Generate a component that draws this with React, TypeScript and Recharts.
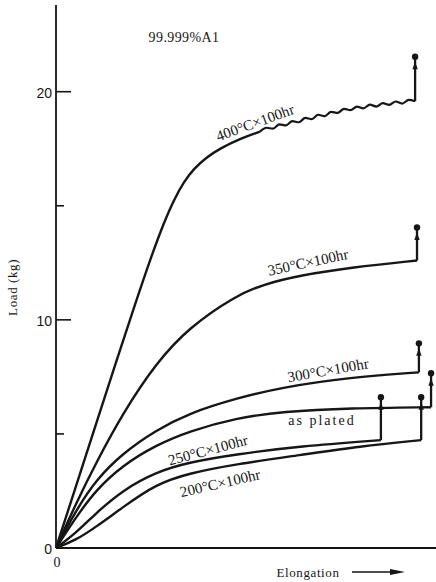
import React from 'react';
import { LineChart, Line, XAxis, YAxis, ReferenceDot } from 'recharts';

// elongation in arbitrary units (0-100 across the axis), load in kg
const curve400 = [
  [0, 0], [5.26, 2.71], [10.53, 5.43], [15.79, 8.14], [21.05, 10.81], [25.26, 12.87],
  [28.42, 14.27], [31.05, 15.27], [33.68, 16.06], [36.32, 16.63], [39.47, 17.11],
  [43.16, 17.51], [48.42, 17.94], [53.68, 18.25],
];
// serrated flow part of the 400°C curve
const serr400 = [
  [53.68, 18.25], [55.4, 18.42], [57.1, 18.38], [58.8, 18.57], [60.5, 18.52], [62.2, 18.71],
  [63.9, 18.66], [65.6, 18.85], [67.3, 18.8], [69.0, 18.99], [70.7, 18.93], [72.4, 19.12],
  [74.1, 19.07], [75.8, 19.25], [77.5, 19.19], [79.2, 19.35], [80.9, 19.27], [82.6, 19.43],
  [84.3, 19.35], [86.0, 19.5], [87.7, 19.42], [89.4, 19.57], [91.1, 19.48], [92.8, 19.64],
  [94.5, 19.58],
];
const curve350 = [
  [0, 0], [5.3, 1.97], [10.5, 3.72], [17.6, 5.91], [26.3, 8.1], [35.0, 9.67],
  [47.4, 11.07], [54.5, 11.55], [64.2, 11.95], [77.9, 12.3], [95.0, 12.6],
];
const curve300 = [
  [0, 0], [5.3, 1.66], [10.5, 2.98], [17.6, 4.16], [26.3, 5.16], [35.0, 5.91],
  [47.4, 6.56], [59.7, 7.05], [77.4, 7.48], [95.5, 7.7],
];
const curvePlated = [
  [0, 0], [5.3, 1.36], [10.5, 2.54], [17.6, 3.63], [26.3, 4.51], [35.0, 5.12],
  [47.4, 5.7], [59.7, 5.98], [77.4, 6.13], [98.7, 6.17],
];
const curve250 = [
  [0, 0], [5.3, 0.66], [10.5, 1.53], [17.6, 2.54], [26.3, 3.33], [35.0, 3.76],
  [47.4, 4.11], [64.2, 4.46], [85.5, 4.73],
];
const curve200 = [
  [0, 0], [5.3, 0.35], [10.5, 0.92], [17.6, 1.79], [26.3, 2.8], [35.0, 3.28],
  [47.4, 3.68], [64.2, 4.07], [80.0, 4.46], [96.1, 4.73],
];

// fracture: [elongation, load before jump, load at break mark]
const breaks = [
  [94.5, 19.58, 21.53],
  [95.0, 12.6, 14.05],
  [95.5, 7.7, 8.97],
  [98.7, 6.17, 7.66],
  [85.5, 4.73, 6.61],
  [96.1, 4.73, 6.61],
];

// curve labels: [text, elongation, load, angle]
const labels: [string, number, number, number][] = [
  ['400°C×100hr', 52.4, 18.64, 20],
  ['350°C×100hr', 66.3, 12.52, 12],
  ['300°C×100hr', 71.6, 7.79, 10],
  ['250°C×100hr', 40.0, 4.29, 15],
  ['200°C×100hr', 43.2, 2.84, 13],
];

const yTicks = [0, 5, 10, 15, 20];
const yLabelled = [0, 10, 20];

const INK = '#161616';
const SERIF = '"Liberation Serif", "DejaVu Serif", serif';
const SANS = '"Liberation Sans", Arial, sans-serif';

const pts = (arr: number[][]) => arr.map(([x, y]) => ({ x, y }));

const endDot = (props: any) => {
  const { cx, cy, index } = props;
  if (index !== 1) return <g key={`e${index}`} />;
  return (
    <g key={`e${index}`}>
      <circle cx={cx} cy={cy} r={3.2} fill={INK} />
      <path d={`M${cx},${cy + 5} L${cx - 2.7},${cy + 12.5} L${cx + 2.7},${cy + 12.5} Z`} fill={INK} />
    </g>
  );
};

const textShape = (txt: string, angle: number, extra: any = {}) => (p: any) => (
  <text
    x={p.cx}
    y={p.cy}
    textAnchor="middle"
    dominantBaseline="central"
    transform={`rotate(${-angle}, ${p.cx}, ${p.cy})`}
    fontFamily={SERIF}
    fontSize={15}
    fill={INK}
    {...extra}
  >
    {txt}
  </text>
);

const YTick = (props: any) => {
  const { x, y, payload } = props;
  const v = payload.value;
  const major = yLabelled.includes(v);
  return (
    <g>
      {v !== 0 && <line x1={x} x2={x + (major ? 15 : 8)} y1={y} y2={y} stroke={INK} strokeWidth={1.6} />}
      {major && (
        <text x={x - 4} y={y + 1} textAnchor="end" dominantBaseline="central" fontFamily={SANS} fontSize={14} fill={INK}>
          {v}
        </text>
      )}
    </g>
  );
};

const XTick = (props: any) => (
  <text x={props.x + 1} y={props.y + 14} textAnchor="middle" dominantBaseline="central" fontFamily={SERIF} fontSize={14} fill={INK}>
    {props.payload.value}
  </text>
);

export default function App() {
  const smooth = [curve400, curve350, curve300, curvePlated, curve250, curve200];
  return (
    <div style={{ width: 436, height: 582, background: '#fff' }}>
      <style>{'body{margin:0}'}</style>
      <LineChart width={436} height={582} margin={{ top: 5, right: 0, bottom: 0, left: 0 }}>
        <XAxis
          type="number"
          dataKey="x"
          domain={[0, 100]}
          ticks={[0]}
          tick={<XTick />}
          tickLine={false}
          tickSize={0}
          tickMargin={0}
          height={34}
          axisLine={{ stroke: INK, strokeWidth: 1.8 }}
          label={{
            content: ({ viewBox }: any) => {
              const y = viewBox.y + 24;
              const x = viewBox.x;
              return (
                <g>
                  <text x={x + 252} y={y} textAnchor="middle" dominantBaseline="central" fontFamily={SERIF} fontSize={13} letterSpacing={0.6} fill={INK}>
                    Elongation
                  </text>
                  <line x1={x + 296} x2={x + 338} y1={y} y2={y} stroke={INK} strokeWidth={1.5} />
                  <path d={`M${x + 349},${y} L${x + 334},${y - 3} L${x + 334},${y + 3} Z`} fill={INK} />
                </g>
              );
            },
          }}
        />
        <YAxis
          type="number"
          dataKey="y"
          domain={[0, 23.8]}
          ticks={yTicks}
          tick={<YTick />}
          tickLine={false}
          tickSize={0}
          tickMargin={0}
          width={56}
          axisLine={{ stroke: INK, strokeWidth: 1.8 }}
          label={{
            content: ({ viewBox }: any) => {
              const cx = 13;
              const cy = viewBox.y + viewBox.height * 0.52;
              return (
                <text x={cx} y={cy} textAnchor="middle" dominantBaseline="central" transform={`rotate(-90, ${cx}, ${cy})`} fontFamily={SERIF} fontSize={13} letterSpacing={0.6} fill={INK}>
                  Load (kg)
                </text>
              );
            },
          }}
        />
        {smooth.map((s, i) => (
          <Line
            key={`c${i}`}
            data={pts(s)}
            dataKey="y"
            type="basis"
            stroke={INK}
            strokeWidth={2.4}
            dot={false}
            isAnimationActive={false}
          />
        ))}
        <Line
          data={pts(serr400)}
          dataKey="y"
          type="monotone"
          stroke={INK}
          strokeWidth={2.2}
          dot={false}
          isAnimationActive={false}
        />
        {breaks.map(([x, y0, y1], i) => (
          <Line
            key={`b${i}`}
            data={[{ x, y: y0 }, { x, y: y1 }]}
            dataKey="y"
            type="linear"
            stroke={INK}
            strokeWidth={2.3}
            dot={endDot}
            isAnimationActive={false}
          />
        ))}
        {labels.map(([t, x, y, a]) => (
          <ReferenceDot key={t} x={x} y={y} r={0} ifOverflow="visible" shape={textShape(t, a)} />
        ))}
        <ReferenceDot x={70.0} y={5.6} r={0} ifOverflow="visible" shape={textShape('as plated', 0, { fontSize: 14, letterSpacing: 2 })} />
        <ReferenceDot x={33.7} y={22.36} r={0} ifOverflow="visible" shape={textShape('99.999%A1', 0, { fontSize: 14, letterSpacing: 0.4 })} />
      </LineChart>
    </div>
  );
}
